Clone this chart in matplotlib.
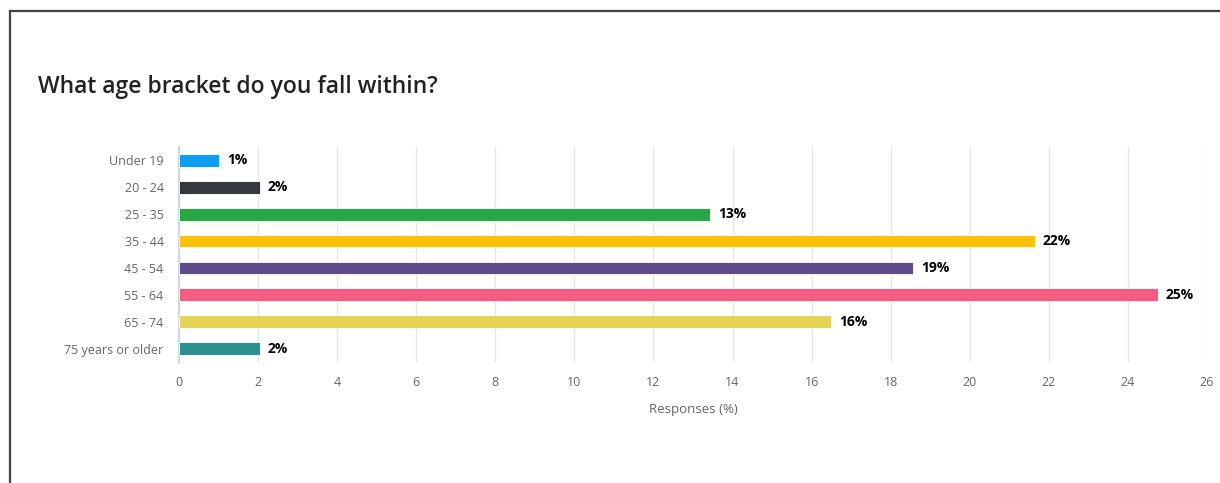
import matplotlib.pyplot as plt
from matplotlib.lines import Line2D

plt.rcParams['font.family'] = ['Open Sans', 'DejaVu Sans']

categories = ["Under 19", "20 - 24", "25 - 35", "35 - 44", "45 - 54", "55 - 64", "65 - 74", "75 years or older"]
values = [1.01, 2.05, 13.43, 21.64, 18.56, 24.75, 16.49, 2.05]
labels = ["1%", "2%", "13%", "22%", "19%", "25%", "16%", "2%"]
colors = ["#0d9ef0", "#343a40", "#28a745", "#ffc107", "#5e4b8b", "#f45c80", "#e4d354", "#2b908f"]
xticks = list(range(0, 27, 2))


def main():
    fig = plt.figure(figsize=(12.2, 4.83), dpi=100)
    ax = fig.add_axes([179 / 1220, 1 - 362 / 483, (1207 - 179) / 1220, 215 / 483])

    y = list(range(len(categories)))
    ax.barh(y, values, height=0.47, color=colors, edgecolor="white", linewidth=0.6, zorder=3)
    for yi, v, lab in zip(y, values, labels):
        ax.text(v + 0.2, yi, lab, va="center", ha="left", fontsize=10,
                fontweight="bold", color="black", zorder=4)

    ax.set_ylim(len(categories) - 0.5, -0.5)
    ax.set_xlim(0, 26)
    ax.set_yticks(y)
    ax.set_yticklabels(categories)
    ax.set_xticks(xticks)
    ax.tick_params(axis="both", length=0, labelsize=9, labelcolor="#666666")
    ax.tick_params(axis="x", pad=10)
    ax.tick_params(axis="y", pad=11)
    ax.xaxis.grid(True, color="#e6e6e6", linewidth=1, zorder=0)
    ax.set_axisbelow(True)
    for side in ["top", "right", "bottom"]:
        ax.spines[side].set_visible(False)
    ax.spines["left"].set_color("#ccd6eb")
    ax.spines["left"].set_linewidth(1.5)
    ax.set_xlabel("Responses (%)", fontsize=9.5, color="#666666", labelpad=10)

    fig.text(38 / 1220, 1 - 87 / 483, "What age bracket do you fall within?",
             fontsize=16.5, fontweight="semibold", color="#222222", va="center", ha="left")

    # frame lines (left and top only)
    fig.add_artist(Line2D([9.5 / 1220, 9.5 / 1220], [0, 1 - 11 / 483], transform=fig.transFigure,
                          color="#444444", linewidth=1.6))
    fig.add_artist(Line2D([9.5 / 1220, 1], [1 - 11 / 483, 1 - 11 / 483], transform=fig.transFigure,
                          color="#444444", linewidth=1.6))

    fig.savefig("out.png", dpi=100, facecolor="white")


if __name__ == "__main__":
    main()
